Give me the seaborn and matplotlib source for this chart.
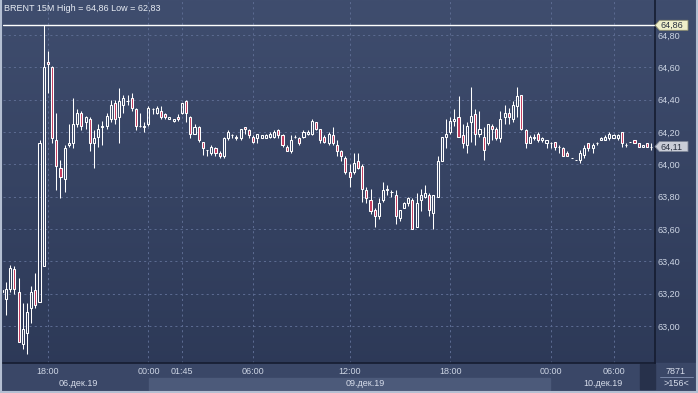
import numpy as np
import matplotlib
matplotlib.use("Agg")
import matplotlib.pyplot as plt
import seaborn as sns
from matplotlib.colors import LinearSegmentedColormap
from matplotlib.patches import Rectangle, Polygon
from matplotlib.lines import Line2D

# ---------------- data (BRENT 15M candles) ----------------
opens = [63.22, 63.17, 63.23, 63.35, 63.21, 62.89, 62.96, 63.11, 63.22, 63.15,
         63.37, 64.63, 64.60, 64.15, 63.98, 63.91, 64.12, 64.13, 64.25, 64.32,
         64.26, 64.28, 64.13, 64.17, 64.23, 64.24, 64.28, 64.38, 64.29, 64.37,
         64.39, 64.41, 64.34, 64.24, 64.23, 64.25, 64.34, 64.32, 64.33, 64.31,
         64.28, 64.27, 64.29, 64.32, 64.39, 64.29, 64.19, 64.23, 64.14, 64.09,
         64.07, 64.10, 64.07, 64.05, 64.16, 64.18, 64.16, 64.16, 64.23, 64.21,
         64.17, 64.16, 64.16, 64.16, 64.17, 64.17, 64.21, 64.18, 64.11, 64.08,
         64.17, 64.16, 64.17, 64.19, 64.19, 64.26, 64.22, 64.17, 64.13, 64.18,
         64.12, 64.08, 64.04, 63.95, 63.95, 64.02, 63.99, 63.84, 63.78, 63.72,
         63.68, 63.78, 63.84, 63.83, 63.81, 63.67, 63.73, 63.76, 63.78, 63.61,
         63.78, 63.80, 63.81, 63.70, 63.80, 64.02, 64.17, 64.20, 64.27, 64.29,
         64.18, 64.12, 64.26, 64.31, 64.19, 64.17, 64.13, 64.24, 64.22, 64.16,
         64.29, 64.32, 64.28, 64.36, 64.43, 64.21, 64.13, 64.16, 64.19, 64.15,
         64.13, 64.13, 64.14, 64.11, 64.10, 64.07, 64.04, 64.03, 64.03, 64.06,
         64.13, 64.10, 64.13, 64.15, 64.15, 64.16, 64.16, 64.16, 64.20, 64.12,
         64.14, 64.15, 64.13, 64.11, 64.13, 64.11]
highs = [63.25, 63.27, 63.38, 63.37, 63.30, 63.14, 63.14, 63.25, 63.33, 64.15,
         64.86, 64.70, 64.61, 64.32, 64.03, 64.12, 64.25, 64.41, 64.34, 64.33,
         64.30, 64.29, 64.21, 64.25, 64.27, 64.32, 64.40, 64.40, 64.47, 64.43,
         64.43, 64.44, 64.35, 64.32, 64.26, 64.36, 64.35, 64.36, 64.36, 64.32,
         64.29, 64.28, 64.31, 64.38, 64.40, 64.30, 64.25, 64.24, 64.14, 64.09,
         64.12, 64.11, 64.08, 64.17, 64.21, 64.19, 64.18, 64.22, 64.23, 64.22,
         64.18, 64.19, 64.18, 64.19, 64.20, 64.21, 64.22, 64.19, 64.12, 64.18,
         64.18, 64.17, 64.21, 64.21, 64.28, 64.26, 64.22, 64.18, 64.20, 64.23,
         64.15, 64.09, 64.05, 64.00, 64.07, 64.07, 64.00, 63.86, 63.85, 63.73,
         63.79, 63.89, 63.87, 63.84, 63.84, 63.72, 63.77, 63.80, 63.79, 63.82,
         63.85, 63.87, 63.82, 63.81, 64.05, 64.17, 64.28, 64.29, 64.34, 64.42,
         64.25, 64.26, 64.48, 64.34, 64.33, 64.23, 64.25, 64.25, 64.23, 64.33,
         64.37, 64.35, 64.39, 64.48, 64.43, 64.22, 64.18, 64.19, 64.20, 64.17,
         64.15, 64.14, 64.14, 64.12, 64.11, 64.08, 64.04, 64.03, 64.09, 64.12,
         64.13, 64.13, 64.14, 64.17, 64.18, 64.20, 64.19, 64.19, 64.20, 64.13,
         64.14, 64.15, 64.13, 64.12, 64.13, 64.13]
lows = [63.16, 63.07, 63.21, 63.20, 62.90, 62.86, 62.83, 63.02, 63.11, 63.15,
        63.37, 64.44, 64.13, 63.84, 63.79, 63.83, 64.11, 64.10, 64.23, 64.21,
        64.22, 64.08, 63.98, 64.11, 64.12, 64.22, 64.26, 64.25, 64.13, 64.32,
        64.37, 64.33, 64.21, 64.23, 64.20, 64.24, 64.31, 64.31, 64.28, 64.28,
        64.28, 64.26, 64.27, 64.31, 64.26, 64.16, 64.19, 64.14, 64.06, 64.05,
        64.06, 64.05, 64.04, 64.04, 64.15, 64.16, 64.15, 64.15, 64.19, 64.16,
        64.13, 64.13, 64.16, 64.16, 64.16, 64.16, 64.16, 64.11, 64.08, 64.07,
        64.16, 64.12, 64.16, 64.18, 64.18, 64.21, 64.13, 64.13, 64.12, 64.12,
        64.05, 64.02, 63.94, 63.86, 63.94, 63.97, 63.77, 63.76, 63.69, 63.61,
        63.66, 63.77, 63.81, 63.80, 63.63, 63.65, 63.73, 63.74, 63.60, 63.61,
        63.71, 63.79, 63.68, 63.60, 63.80, 64.02, 64.10, 64.19, 64.24, 64.17,
        64.10, 64.07, 64.14, 64.12, 64.17, 64.03, 64.12, 64.15, 64.15, 64.14,
        64.25, 64.25, 64.26, 64.29, 64.21, 64.10, 64.13, 64.15, 64.14, 64.14,
        64.10, 64.10, 64.09, 64.07, 64.05, 64.05, 64.04, 64.03, 64.01, 64.04,
        64.08, 64.07, 64.12, 64.15, 64.15, 64.15, 64.16, 64.15, 64.11, 64.11,
        64.14, 64.13, 64.11, 64.11, 64.11, 64.09]
closes = [63.21, 63.23, 63.36, 63.23, 62.90, 62.98, 63.09, 63.21, 63.13, 64.13,
          64.60, 64.62, 64.16, 63.99, 63.92, 64.10, 64.13, 64.25, 64.32, 64.24,
          64.29, 64.13, 64.16, 64.22, 64.24, 64.30, 64.37, 64.28, 64.39, 64.41,
          64.39, 64.35, 64.24, 64.24, 64.24, 64.35, 64.34, 64.35, 64.29, 64.29,
          64.29, 64.28, 64.28, 64.38, 64.32, 64.19, 64.23, 64.15, 64.10, 64.09,
          64.11, 64.07, 64.05, 64.16, 64.20, 64.18, 64.17, 64.22, 64.22, 64.18,
          64.14, 64.19, 64.18, 64.18, 64.19, 64.20, 64.18, 64.12, 64.08, 64.15,
          64.17, 64.13, 64.20, 64.20, 64.27, 64.22, 64.15, 64.14, 64.19, 64.13,
          64.08, 64.05, 63.95, 63.92, 64.01, 63.98, 63.85, 63.79, 63.71, 63.68,
          63.76, 63.84, 63.85, 63.83, 63.68, 63.72, 63.76, 63.79, 63.60, 63.76,
          63.81, 63.82, 63.72, 63.81, 64.02, 64.17, 64.19, 64.27, 64.28, 64.17,
          64.13, 64.24, 64.30, 64.19, 64.22, 64.09, 64.25, 64.22, 64.16, 64.28,
          64.32, 64.29, 64.37, 64.42, 64.22, 64.13, 64.17, 64.17, 64.15, 64.16,
          64.15, 64.13, 64.11, 64.11, 64.05, 64.05, 64.04, 64.03, 64.07, 64.10,
          64.10, 64.12, 64.13, 64.16, 64.17, 64.19, 64.18, 64.18, 64.13, 64.12,
          64.14, 64.13, 64.11, 64.12, 64.11, 64.11]

time_labels = ["18:00", "00:00", "01:45", "06:00", "12:00", "18:00", "00:00", "06:00"]
time_label_bars = [11, 35, 43, 60, 83, 107, 131, 146]
date_labels = ["06.дек.19", "09.дек.19", "10.дек.19"]
price_ticks = [63.0, 63.2, 63.4, 63.6, 63.8, 64.0, 64.2, 64.4, 64.6, 64.8]
session_high = 64.86
session_low = 62.83
last_price = 64.11
bar_count_label = "7871"
visible_bars_label = ">156<"
title = "BRENT 15M High = 64,86 Low = 62,83"

# ---------------- styling ----------------
sns.set_theme(style="dark")
plt.rcParams["font.family"] = ["Liberation Sans", "DejaVu Sans"]

W, H = 698, 393
fig = plt.figure(figsize=(W / 100, H / 100), dpi=100)


def fx(px):
    return px / W


def fy(py):
    return 1 - py / H


# gradient background
bg = fig.add_axes([0, 0, 1, 1])
cmap = LinearSegmentedColormap.from_list("bg", ["#2c3856", "#3f4d6e"])
grad = np.linspace(0, 1, 256).reshape(-1, 1)
bg.imshow(grad, extent=[0, 1, 0, 1], aspect="auto", cmap=cmap, origin="lower")
bg.set_axis_off()
bg.set_zorder(0)

# bottom time-axis band
fig.patches.append(Rectangle((fx(0), fy(390)), fx(698), fy(363) - fy(390),
                             transform=fig.transFigure, color="#3a4767", zorder=1))
fig.patches.append(Rectangle((fx(149), fy(390)), fx(550) - fx(149), fy(377.5) - fy(390),
                             transform=fig.transFigure, color="#4c5a7a", zorder=1))
fig.patches.append(Rectangle((fx(640), fy(389)), fx(655) - fx(640), fy(364) - fy(389),
                             transform=fig.transFigure, color="#27314b", zorder=1))

# main axes
ax = fig.add_axes([fx(3), fy(363), fx(655) - fx(3), fy(0) - fy(363)])
ax.set_zorder(2)
ax.patch.set_alpha(0)
x0 = (3 - 1.8) / 4.19
x1 = (655 - 1.8) / 4.19
ax.set_xlim(x0, x1)
y_top = 64.80 + 35 * 0.006184
y_bot = 64.80 - 328 * 0.006184
ax.set_ylim(y_bot, y_top)

o = np.array(opens)
h = np.array(highs)
l = np.array(lows)
c = np.array(closes)
x = np.arange(len(o))
top = np.maximum(o, c)
bot = np.minimum(o, c)

ax.vlines(x, top, h, color="white", linewidth=0.75, zorder=3)
ax.vlines(x, l, bot, color="white", linewidth=0.75, zorder=3)
fills = ["#c43a5c" if cc < oo else "none" for oo, cc in zip(o, c)]
ax.bar(x, top - bot, bottom=bot, width=0.5, color=fills, edgecolor="white",
       linewidth=0.75, zorder=4)

ax.axhline(session_high, color="white", linewidth=1.0, zorder=5)

# grid & ticks
ax.set_yticks(price_ticks)
ax.set_yticklabels([f"{p:.2f}".replace(".", ",") for p in price_ticks])
ax.yaxis.tick_right()
ax.set_xticks(time_label_bars)
ax.set_xticklabels(time_labels)
ax.tick_params(axis="both", length=0, labelsize=6.5, colors="#cdd5e4")
ax.tick_params(axis="y", pad=2)
ax.tick_params(axis="x", pad=3)
ax.grid(True, color="#5b6a90", linestyle=(0, (2, 3)), linewidth=0.75)
for s in ["top", "left"]:
    ax.spines[s].set_visible(False)
for s in ["right", "bottom"]:
    ax.spines[s].set_visible(True)
    ax.spines[s].set_color("#151c30")
    ax.spines[s].set_linewidth(1.2)

# title
fig.text(fx(4), fy(8.5), title, color="#e8ecf4", fontsize=6.5, va="center", ha="left", zorder=6)

# date labels
for lbl, px in zip(date_labels, [78, 365, 603]):
    fig.text(fx(px), fy(383.5), lbl, color="#d6dcea", fontsize=6.5, ha="center", va="center", zorder=6)

# bottom-right counters
fig.text(fx(676), fy(371), bar_count_label, color="#d6dcea", fontsize=6.5, ha="center", va="center", zorder=6)
fig.text(fx(676), fy(383.5), visible_bars_label, color="#d6dcea", fontsize=6.5, ha="center", va="center", zorder=6)
fig.lines.append(Line2D([fx(660), fx(693)], [fy(377), fy(377)], transform=fig.transFigure,
                        color="#8392b2", linewidth=0.6, zorder=6))


# price tags
def tag(price, face, edge):
    yp = 35 + (64.80 - price) * 161.7
    pts = [(655, yp), (659.5, yp - 5), (688, yp - 5), (688, yp + 5), (659.5, yp + 5)]
    fig.patches.append(Polygon([(fx(a), fy(b)) for a, b in pts], closed=True,
                               transform=fig.transFigure, facecolor=face, edgecolor=edge,
                               linewidth=0.6, zorder=7))
    fig.text(fx(660.5), fy(yp + 0.3), f"{price:.2f}".replace(".", ","), color="#28303f",
             fontsize=6.5, ha="left", va="center", zorder=8)


tag(session_high, "#efefca", "#8e8e70")
tag(last_price, "#c9cdd7", "#7d8597")

# outer frame (left, bottom, right)
for xs, ys in [([0.8, 0.8], [0, 392]), ([0, 698], [391.5, 391.5]), ([697.2, 697.2], [0, 392])]:
    fig.lines.append(Line2D([fx(v) for v in xs], [fy(v) for v in ys], transform=fig.transFigure,
                            color="#b4bfd2", linewidth=1.5, zorder=9))

fig.savefig("out.png", dpi=100)
